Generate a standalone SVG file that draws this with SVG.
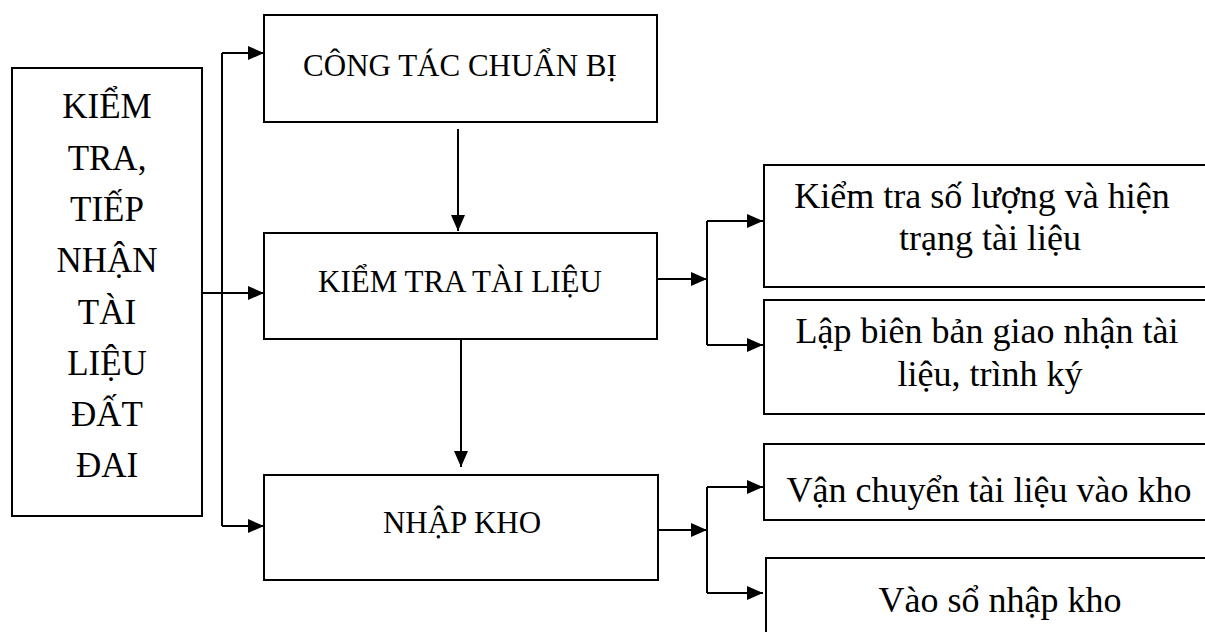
<svg xmlns="http://www.w3.org/2000/svg" width="1205" height="632" viewBox="0 0 1205 632">
<style>
.box{fill:none;stroke:#000;stroke-width:2}
.ln{fill:none;stroke:#000;stroke-width:2}
text{font-family:"Liberation Serif","Times New Roman",serif;fill:#000;text-anchor:middle}
.t1{font-size:35px}
.t2{font-size:31px}
.t3{font-size:36px}
</style>
<defs>
<marker id="ah" markerWidth="16" markerHeight="14" refX="16" refY="7" orient="auto" markerUnits="userSpaceOnUse">
<path d="M0,0 L16,7 L0,14 Z" fill="#000"/>
</marker>
</defs>
<rect width="1205" height="632" fill="#fff"/>
<g id="connectors">
<path class="ln" d="M222,53 V526"/>
<path class="ln" d="M222,53 H264" marker-end="url(#ah)"/>
<path class="ln" d="M202,293 H264" marker-end="url(#ah)"/>
<path class="ln" d="M222,526 H264" marker-end="url(#ah)"/>
<path class="ln" d="M458,129 V231" marker-end="url(#ah)"/>
<path class="ln" d="M461,340 V467" marker-end="url(#ah)"/>
<path class="ln" d="M657,279 H707" marker-end="url(#ah)"/>
<path class="ln" d="M707,221 V345"/>
<path class="ln" d="M707,221 H763" marker-end="url(#ah)"/>
<path class="ln" d="M707,345 H763" marker-end="url(#ah)"/>
<path class="ln" d="M658,530 H707" marker-end="url(#ah)"/>
<path class="ln" d="M707,487 V593"/>
<path class="ln" d="M707,487 H763" marker-end="url(#ah)"/>
<path class="ln" d="M707,593 H763" marker-end="url(#ah)"/>
</g>
<g id="n-kiemtra-tiepnhan">
<rect class="box" x="12" y="68" width="190" height="448"/>
<text class="t1" x="107" y="118">KIỂM</text>
<text class="t1" x="107" y="170">TRA,</text>
<text class="t1" x="107" y="221">TIẾP</text>
<text class="t1" x="107" y="272">NHẬN</text>
<text class="t1" x="107" y="324">TÀI</text>
<text class="t1" x="107" y="375">LIỆU</text>
<text class="t1" x="107" y="426">ĐẤT</text>
<text class="t1" x="107" y="477">ĐAI</text>
</g>
<g id="n-congtac">
<rect class="box" x="264" y="15" width="393" height="107"/>
<text class="t2" x="460" y="76">CÔNG TÁC CHUẨN BỊ</text>
</g>
<g id="n-kiemtra-tailieu">
<rect class="box" x="264" y="233" width="393" height="106"/>
<text class="t2" x="460" y="292">KIỂM TRA TÀI LIỆU</text>
</g>
<g id="n-nhapkho">
<rect class="box" x="264" y="475" width="394" height="105"/>
<text class="t2" x="462" y="533">NHẬP KHO</text>
</g>
<g id="n-soluong">
<rect class="box" x="764" y="165" width="450" height="122"/>
<text class="t3" x="982" y="208">Kiểm tra số lượng và hiện</text>
<text class="t3" x="990" y="250">trạng tài liệu</text>
</g>
<g id="n-bienban">
<rect class="box" x="764" y="300" width="450" height="114"/>
<text class="t3" x="987" y="343">Lập biên bản giao nhận tài</text>
<text class="t3" x="990" y="386">liệu, trình ký</text>
</g>
<g id="n-vanchuyen">
<rect class="box" x="764" y="444" width="450" height="76"/>
<text class="t3" x="989" y="502">Vận chuyển tài liệu vào kho</text>
</g>
<g id="n-vaoso">
<rect class="box" x="766" y="558" width="450" height="90"/>
<text class="t3" x="1000" y="612">Vào sổ nhập kho</text>
</g>
</svg>
